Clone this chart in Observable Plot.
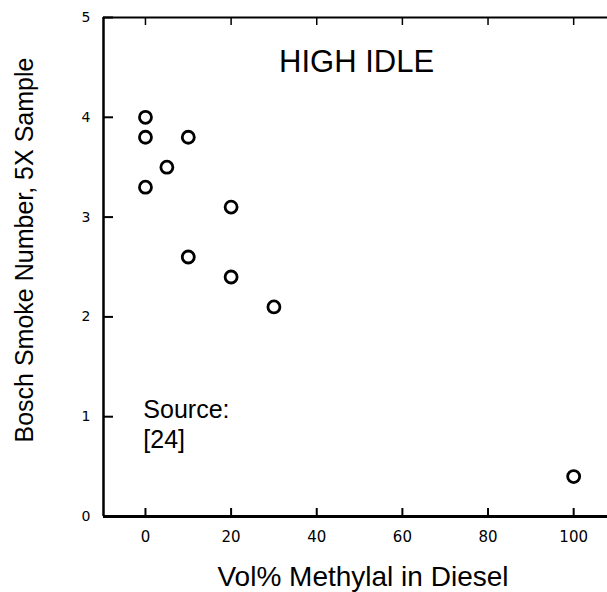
<!DOCTYPE html>
<html><head><meta charset="utf-8">
<script src="https://cdn.jsdelivr.net/npm/d3@7"></script>
<script src="https://cdn.jsdelivr.net/npm/@observablehq/plot@0.6"></script>
<style>
body{margin:0;background:#fff}
svg{display:block}
</style>
</head><body><div id="chart"></div>
<script>
const methylal = [0, 0, 10, 5, 0, 20, 10, 20, 30, 100];
const smoke = [4.0, 3.8, 3.8, 3.5, 3.3, 3.1, 2.6, 2.4, 2.1, 0.4];
const xTicks = [0, 20, 40, 60, 80, 100];
const yTicks = [0, 1, 2, 3, 4, 5];
const xDomain = [-9.8, 107.9];
const yDomain = [0, 5];
const titleText = ["HIGH IDLE"];
const titleX = [49.3];
const titleY = [4.55];
const sourceText = ["Source:\n[24]"];
const sourceX = [-0.5];
const sourceY = [0.93];
const xLabel = ["Vol% Methylal in Diesel"];
const xLabelX = [50.8];
const xLabelY = [-0.61];
const yLabel = ["Bosch Smoke Number, 5X Sample"];
const yLabelX = [-28.2];
const yLabelY = [2.67];

const points = methylal.map((x, i) => ({x, y: smoke[i]}));
const tickFont = "'DejaVu Sans', sans-serif";
const textFont = "'Liberation Sans', Arial, sans-serif";

const W = 607, H = 592, ML = 103, MR = 0, MT = 17, MB = 76;
const frameH = H - MT - MB, frameW = W - ML - MR;

const plot = Plot.plot({
  width: W,
  height: H,
  marginLeft: ML,
  marginRight: MR,
  marginTop: MT,
  marginBottom: MB,
  style: {background: "#fff", color: "#000", fontFamily: tickFont},
  x: {domain: xDomain, ticks: xTicks},
  y: {domain: yDomain, ticks: yTicks},
  marks: [
    Plot.axisX(xTicks, {anchor: "bottom", tickSize: 0, tickPadding: 15, fontSize: 15, tickFormat: "d", label: null}),
    Plot.axisY(yTicks, {anchor: "left", tickSize: 0, tickPadding: 13, fontSize: 14, tickFormat: "d", label: null}),
    Plot.ruleX(xTicks, {x: d => d, insetTop: frameH - 8, strokeWidth: 2}),
    Plot.ruleX(xTicks, {x: d => d, insetBottom: frameH - 8, strokeWidth: 1.5}),
    Plot.ruleY(yTicks, {y: d => d, insetRight: frameW - 10, strokeWidth: 2}),
    Plot.ruleY([yDomain[0]], {strokeWidth: 3}),
    Plot.ruleY([yDomain[1]], {strokeWidth: 2}),
    Plot.ruleX([xDomain[0]], {strokeWidth: 2.5}),
    Plot.dot(points, {x: "x", y: "y", r: 6, stroke: "#000", strokeWidth: 2.8, fill: "none"}),
    Plot.text(titleText, {x: titleX, y: titleY, text: d => d, fontSize: 31, fontFamily: textFont, textAnchor: "middle"}),
    Plot.text(sourceText, {x: sourceX, y: sourceY, text: d => d, fontSize: 25, lineHeight: 1.2, fontFamily: textFont, textAnchor: "start"}),
    Plot.text(xLabel, {x: xLabelX, y: xLabelY, text: d => d, fontSize: 28, fontFamily: textFont}),
    Plot.text(yLabel, {x: yLabelX, y: yLabelY, text: d => d, rotate: -90, fontSize: 25, fontFamily: textFont})
  ]
});
document.getElementById("chart").appendChild(plot);
</script>
</body></html>
